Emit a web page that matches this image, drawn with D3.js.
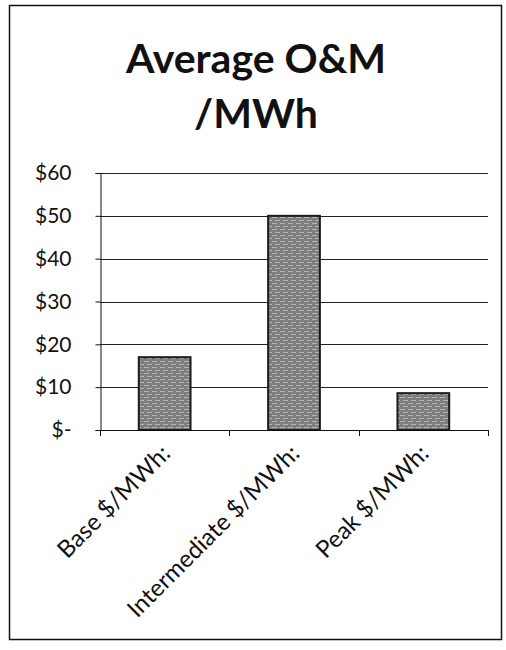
<!DOCTYPE html>
<html><head><meta charset="utf-8">
<script src="https://cdn.jsdelivr.net/npm/d3@7"></script>
<style>body{margin:0;background:#fff}svg{display:block}</style>
</head><body>
<script>
const titleLines = ["Average O&M", "/MWh"];
const categories = ["Base $/MWh:", "Intermediate $/MWh:", "Peak $/MWh:"];
const values = [17, 50, 8.6];
const yTicks = [0, 10, 20, 30, 40, 50, 60];
const yTickLabels = ["$-", "$10", "$20", "$30", "$40", "$50", "$60"];

const W = 506, H = 650;
const font = "Lato, 'Open Sans', sans-serif";
const svg = d3.select("body").append("svg").attr("width", W).attr("height", H);

svg.append("rect").attr("x", 9.5).attr("y", 5.5).attr("width", 492).attr("height", 634)
  .attr("fill", "#fff").attr("stroke", "#111").attr("stroke-width", 1.5);

const plot = {left: 100, right: 488, top: 173, bottom: 430};
const x = d3.scaleBand().domain(categories).range([plot.left, plot.right]).paddingInner(0.6).paddingOuter(0.3);
const y = d3.scaleLinear().domain([0, 60]).range([plot.bottom, plot.top]);

// speckled gray pattern for bars
const defs = svg.append("defs");
const pat = defs.append("pattern").attr("id", "speckle").attr("patternUnits", "userSpaceOnUse")
  .attr("width", 8).attr("height", 6);
pat.append("rect").attr("width", 8).attr("height", 6).attr("fill", "#7e7e7e");
pat.append("path").attr("d", "M0,1.5h5M3,4.5h5").attr("stroke", "#b4b4b4").attr("stroke-width", 1);

// title
svg.append("g").selectAll("text").data(titleLines).join("text")
  .attr("x", 256).attr("y", (d, i) => 73 + i * 55)
  .attr("text-anchor", "middle").attr("font-family", font).attr("font-weight", "bold")
  .attr("font-size", 41).attr("fill", "#111").text(d => d);

// gridlines
svg.append("g").selectAll("line").data(yTicks.filter(d => d > 0)).join("line")
  .attr("x1", plot.left).attr("x2", plot.right)
  .attr("y1", d => Math.round(y(d)) + 0.5).attr("y2", d => Math.round(y(d)) + 0.5)
  .attr("stroke", "#222").attr("stroke-width", 1);

// bars
svg.append("g").selectAll("rect").data(values).join("rect")
  .attr("x", (d, i) => x(categories[i]))
  .attr("y", d => y(d))
  .attr("width", x.bandwidth())
  .attr("height", d => y(0) - y(d))
  .attr("fill", "url(#speckle)").attr("stroke", "#1a1a1a").attr("stroke-width", 2);

// y axis
const yAxis = d3.axisLeft(y).tickValues(yTicks).tickSize(5).tickPadding(24)
  .tickFormat((d, i) => yTickLabels[i]);
const gy = svg.append("g").attr("transform", `translate(${plot.left + 0.5},0)`).call(yAxis);
gy.select(".domain").attr("stroke", "#111");
gy.selectAll(".tick line").attr("stroke", "#111");
gy.selectAll("text").attr("font-family", font).attr("font-size", 21).attr("fill", "#111");

// x axis baseline and boundary ticks
const step = x.step();
const gap = step - x.bandwidth();
const boundaries = categories.map(c => x(c) - gap / 2).concat([x(categories[categories.length - 1]) + x.bandwidth() + gap / 2]);
svg.append("line").attr("x1", plot.left).attr("x2", plot.right)
  .attr("y1", y(0) + 0.5).attr("y2", y(0) + 0.5).attr("stroke", "#111");
svg.append("g").selectAll("line").data(boundaries).join("line")
  .attr("x1", d => Math.round(d) + 0.5).attr("x2", d => Math.round(d) + 0.5)
  .attr("y1", y(0)).attr("y2", y(0) + 6).attr("stroke", "#111");

// category labels
svg.append("g").selectAll("text").data(categories).join("text")
  .attr("transform", d => `translate(${x(d) + x.bandwidth() / 2 + 7},${y(0) + 25}) rotate(-45)`)
  .attr("text-anchor", "end").attr("font-family", font).attr("font-size", 24)
  .attr("fill", "#111").text(d => d);
</script>
</body></html>
